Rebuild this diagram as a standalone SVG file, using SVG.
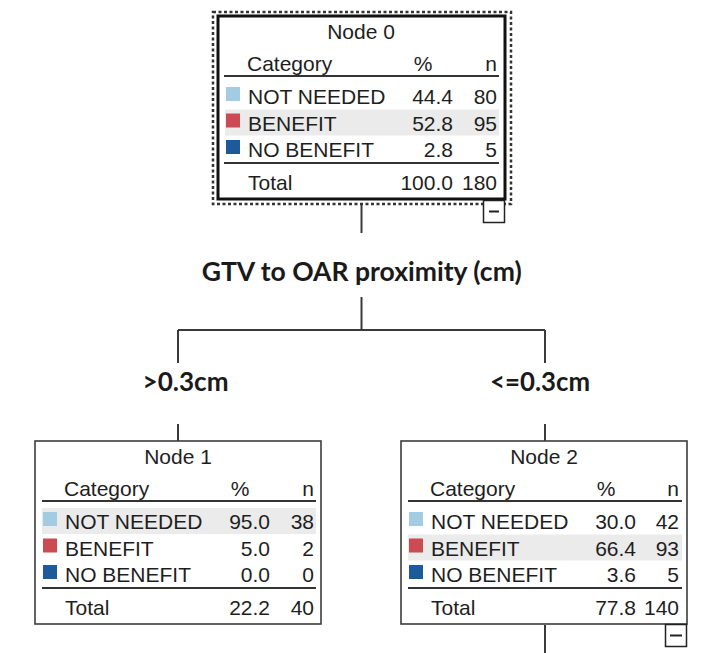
<svg xmlns="http://www.w3.org/2000/svg" width="702" height="653" viewBox="0 0 702 653">
<style>
.t{font-family:"Liberation Sans",Arial,sans-serif;font-size:21px;fill:#1e1e1e}
.m{text-anchor:middle}
.e{text-anchor:end}
.box{fill:#fff;stroke:#3c3c3c;stroke-width:1.6}
.rule{stroke:#333;stroke-width:2}
.band{fill:#ebebeb}
.c1{fill:#a3cbe2}
.c2{fill:#cc4a52}
.c3{fill:#1d5a9a}
.lbl{font-family:Lato,"Open Sans",sans-serif;font-weight:bold;font-size:27px;fill:#1a1a1a;text-anchor:middle}
.conn{stroke:#3a3a3a;stroke-width:2;fill:none}
.mb{fill:#fff;stroke:#222;stroke-width:1.5}
</style>
<rect width="702" height="653" fill="#fff"/>
<g id="connectors" class="conn">
<path d="M361.5 204V233"/>
<path d="M361.5 297V330"/>
<path d="M178 330H545"/>
<path d="M178 330V363"/>
<path d="M545 330V363"/>
<path d="M178 424V441"/>
<path d="M545 424V441"/>
<path d="M545 625V653"/>
</g>
<g id="labels">
<text class="lbl" x="361.7" y="281" textLength="320" lengthAdjust="spacingAndGlyphs">GTV to OAR proximity (cm)</text>
<text class="lbl" x="185.5" y="391" textLength="86" lengthAdjust="spacingAndGlyphs">&gt;0.3cm</text>
<text class="lbl" x="540" y="391" textLength="100" lengthAdjust="spacingAndGlyphs">&lt;=0.3cm</text>
</g>
<g id="node0">
<rect x="213" y="12" width="298" height="192" fill="none" stroke="#333" stroke-width="2.5" stroke-dasharray="3 2.5"/>
<rect x="218" y="16" width="287" height="183" fill="#fff" stroke="#111" stroke-width="3"/>
<rect class="band" x="225" y="109.5" width="274" height="26"/>
<text class="t m" x="361" y="39">Node 0</text>
<text class="t" x="247" y="71">Category</text>
<text class="t m" x="423" y="71">%</text>
<text class="t e" x="497" y="71">n</text>
<line class="rule" x1="224" y1="76" x2="499" y2="76"/>
<rect class="c1" x="226" y="87" width="14" height="14"/>
<text class="t" x="248" y="104">NOT NEEDED</text>
<text class="t e" x="453" y="104">44.4</text>
<text class="t e" x="497" y="104">80</text>
<rect class="c2" x="226" y="113.5" width="14" height="14"/>
<text class="t" x="248" y="130.5">BENEFIT</text>
<text class="t e" x="453" y="130.5">52.8</text>
<text class="t e" x="497" y="130.5">95</text>
<rect class="c3" x="226" y="140" width="14" height="14"/>
<text class="t" x="248" y="157">NO BENEFIT</text>
<text class="t e" x="453" y="157">2.8</text>
<text class="t e" x="497" y="157">5</text>
<line class="rule" x1="224" y1="163" x2="499" y2="163"/>
<text class="t" x="248" y="190">Total</text>
<text class="t e" x="453" y="190">100.0</text>
<text class="t e" x="497" y="190">180</text>
<rect class="mb" x="483.5" y="200.5" width="21" height="22"/>
<line x1="489" y1="211.5" x2="499" y2="211.5" stroke="#222" stroke-width="2"/>
</g>
<g id="node1">
<rect class="box" x="35" y="441" width="286" height="183"/>
<rect class="band" x="42" y="508" width="274" height="26"/>
<text class="t m" x="178" y="464">Node 1</text>
<text class="t" x="64" y="496">Category</text>
<text class="t m" x="240" y="496">%</text>
<text class="t e" x="314" y="496">n</text>
<line class="rule" x1="42" y1="501" x2="316" y2="501"/>
<rect class="c1" x="43" y="512" width="14" height="14"/>
<text class="t" x="65" y="529">NOT NEEDED</text>
<text class="t e" x="270" y="529">95.0</text>
<text class="t e" x="314" y="529">38</text>
<rect class="c2" x="43" y="538.5" width="14" height="14"/>
<text class="t" x="65" y="555.5">BENEFIT</text>
<text class="t e" x="270" y="555.5">5.0</text>
<text class="t e" x="314" y="555.5">2</text>
<rect class="c3" x="43" y="565" width="14" height="14"/>
<text class="t" x="65" y="582">NO BENEFIT</text>
<text class="t e" x="270" y="582">0.0</text>
<text class="t e" x="314" y="582">0</text>
<line class="rule" x1="42" y1="588" x2="316" y2="588"/>
<text class="t" x="65" y="615">Total</text>
<text class="t e" x="270" y="615">22.2</text>
<text class="t e" x="314" y="615">40</text>
</g>
<g id="node2">
<rect class="box" x="401" y="441" width="286" height="183"/>
<rect class="band" x="408" y="534.5" width="274" height="26"/>
<text class="t m" x="544" y="464">Node 2</text>
<text class="t" x="430" y="496">Category</text>
<text class="t m" x="606" y="496">%</text>
<text class="t e" x="679" y="496">n</text>
<line class="rule" x1="408" y1="501" x2="682" y2="501"/>
<rect class="c1" x="409" y="512" width="14" height="14"/>
<text class="t" x="431" y="529">NOT NEEDED</text>
<text class="t e" x="636" y="529">30.0</text>
<text class="t e" x="679" y="529">42</text>
<rect class="c2" x="409" y="538.5" width="14" height="14"/>
<text class="t" x="431" y="555.5">BENEFIT</text>
<text class="t e" x="636" y="555.5">66.4</text>
<text class="t e" x="679" y="555.5">93</text>
<rect class="c3" x="409" y="565" width="14" height="14"/>
<text class="t" x="431" y="582">NO BENEFIT</text>
<text class="t e" x="636" y="582">3.6</text>
<text class="t e" x="679" y="582">5</text>
<line class="rule" x1="408" y1="588" x2="682" y2="588"/>
<text class="t" x="431" y="615">Total</text>
<text class="t e" x="636" y="615">77.8</text>
<text class="t e" x="679" y="615">140</text>
<rect class="mb" x="665.5" y="624.5" width="21" height="22"/>
<line x1="670" y1="635.5" x2="682" y2="635.5" stroke="#222" stroke-width="2"/>
</g>
</svg>
